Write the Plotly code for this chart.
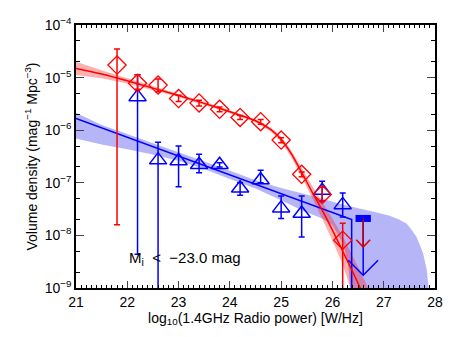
import numpy as np
import plotly.graph_objects as go

# red sample (diamonds): log10 P, density, upper/lower error ends
red_x = [21.8, 22.2, 22.6, 23.0, 23.4, 23.8, 24.2, 24.6, 25.0, 25.4, 25.8, 26.2]
red_y = [1.73e-5, 7.8e-6, 7.2e-6, 4.0e-6, 3.3e-6, 2.5e-6, 1.75e-6, 1.45e-6, 6.5e-7, 1.45e-7, 6.0e-8, 8.1e-9]
red_hi = [3.5e-5, 1.13e-5, 9.4e-6, 4.6e-6, 3.7e-6, 2.75e-6, 1.9e-6, 1.6e-6, 7.2e-7, 1.6e-7, 8.2e-8, 1.7e-8]
red_lo = [1.6e-8, 6.0e-6, 5.4e-6, 3.5e-6, 2.9e-6, 2.25e-6, 1.6e-6, 1.3e-6, 5.8e-7, 1.3e-7, 4.4e-8, 1e-11]

# blue sample (triangles)
blue_x = [22.2, 22.6, 23.0, 23.4, 23.8, 24.2, 24.6, 25.0, 25.4, 25.8, 26.2]
blue_y = [4.3e-6, 2.7e-7, 2.6e-7, 2.2e-7, 2.2e-7, 7.9e-8, 1.13e-7, 3.3e-8, 2.6e-8, 7.1e-8, 3.8e-8]
blue_hi = [1.13e-5, 5.9e-7, 5.0e-7, 3.5e-7, 2.4e-7, 1.0e-7, 1.74e-7, 5.6e-8, 5.6e-8, 1.07e-7, 6.4e-8]
blue_lo = [4.4e-9, 1e-11, 8.4e-8, 1.55e-7, 2.0e-7, 5.8e-8, 1.0e-7, 2.1e-8, 9.3e-9, 4.5e-8, 2.24e-8]

# upper limits at the brightest bin
ul_x = 26.6
ul_top = 2.1e-8
ul_red_tip = 6.0e-9
ul_blue_tip = 1.75e-9

# fitted curves (log10 density)
red_fit_x = [21.0, 21.5, 22.0, 22.5, 23.0, 23.5, 24.0, 24.5, 24.8, 25.0, 25.2, 25.4, 25.6, 25.8, 26.0, 26.2, 26.4, 26.55]
red_fit_logy = [-4.825, -4.93, -5.06, -5.20, -5.34, -5.49, -5.65, -5.82, -5.99, -6.17, -6.45, -6.80, -7.17, -7.52, -7.90, -8.30, -8.70, -9.02]
red_band_x = [21.0, 21.5, 22.0, 22.5, 23.0, 23.5, 24.0, 24.5, 24.8, 25.0, 25.2, 25.4, 25.6, 25.8, 26.0, 26.2, 26.4, 26.6, 26.7, 26.75]
red_band_up = [-4.70, -4.86, -5.01, -5.16, -5.31, -5.46, -5.62, -5.79, -5.95, -6.12, -6.39, -6.72, -7.05, -7.36, -7.68, -8.02, -8.40, -8.80, -9.0, -9.1]
red_band_lo_x = [21.0, 21.5, 22.0, 22.5, 23.0, 23.5, 24.0, 24.5, 24.8, 25.0, 25.2, 25.4, 25.6, 25.8, 26.0, 26.2, 26.35, 26.4]
red_band_lo = [-4.95, -5.01, -5.11, -5.24, -5.37, -5.52, -5.68, -5.85, -6.03, -6.22, -6.52, -6.89, -7.28, -7.68, -8.10, -8.55, -9.0, -9.1]

blue_fit_x = [21.0, 22.0, 23.0, 24.0, 25.0, 26.0, 26.375, 26.375]
blue_fit_logy = [-5.776, -6.134, -6.492, -6.85, -7.208, -7.566, -7.70, -9.5]
blue_band_x = [21.0, 21.5, 22.0, 22.5, 23.0, 23.5, 24.0, 24.5, 25.0, 25.4, 25.8, 26.1, 26.4, 26.8, 27.1, 27.3, 27.45, 27.55, 27.64, 27.72, 27.77, 27.84, 27.88]
blue_band_up = [-5.668, -5.90, -6.07, -6.25, -6.42, -6.595, -6.77, -6.95, -7.10, -7.20, -7.30, -7.39, -7.46, -7.55, -7.62, -7.70, -7.78, -7.90, -8.03, -8.22, -8.35, -8.66, -9.05]
blue_band_lo_x = [21.0, 21.5, 22.0, 22.5, 23.0, 23.5, 24.0, 24.5, 25.0, 25.4, 25.8, 26.0, 26.2, 26.3, 26.35]
blue_band_lo = [-6.157, -6.27, -6.36, -6.46, -6.58, -6.74, -6.93, -7.11, -7.33, -7.52, -7.68, -7.80, -8.15, -8.5, -9.05]

RED = "#ff0000"
BLUE = "#0000ff"
FONT = "Liberation Sans"


def band(xu, yu, xl, yl):
    xs = list(xu) + list(xl)[::-1]
    ys = list(10 ** np.array(yu)) + list(10 ** np.array(yl))[::-1]
    return xs, ys


def errs(y, hi, lo):
    y = np.array(y)
    return np.array(hi) - y, y - np.array(lo)


def chevron(x, tip, half_w, head_dex):
    # open arrow head in data units
    yh = 10 ** (np.log10(tip) + head_dex)
    return [x - half_w, x, x + half_w], [yh, tip, yh]


fig = go.Figure()

bx, by = band(blue_band_x, blue_band_up, blue_band_lo_x, blue_band_lo)
fig.add_trace(go.Scatter(x=bx, y=by, fill="toself", mode="none",
                         fillcolor="rgba(30,30,235,0.33)", hoverinfo="skip"))
rx, ry = band(red_band_x, red_band_up, red_band_lo_x, red_band_lo)
fig.add_trace(go.Scatter(x=rx, y=ry, fill="toself", mode="none",
                         fillcolor="rgba(250,30,30,0.35)", hoverinfo="skip"))

fig.add_trace(go.Scatter(x=blue_fit_x, y=10 ** np.array(blue_fit_logy), mode="lines",
                         line=dict(color=BLUE, width=1.5)))
fig.add_trace(go.Scatter(x=red_fit_x, y=10 ** np.array(red_fit_logy), mode="lines",
                         line=dict(color=RED, width=1.5, shape="spline", smoothing=0.6)))

# upper limits: blue first, red on top
ax_, ay_ = chevron(ul_x, ul_blue_tip, 0.29, 0.285)
fig.add_trace(go.Scatter(x=[ul_x, ul_x], y=[ul_top, ul_blue_tip], mode="lines",
                         line=dict(color=BLUE, width=1.5)))
fig.add_trace(go.Scatter(x=ax_, y=ay_, mode="lines", line=dict(color=BLUE, width=1.5)))
fig.add_trace(go.Scatter(x=[ul_x], y=[ul_top], mode="markers", marker=dict(size=0.1, color=BLUE),
                         error_x=dict(type="data", array=[0.15], color=BLUE, thickness=7, width=0)))
ax_, ay_ = chevron(ul_x, ul_red_tip, 0.135, 0.14)
fig.add_trace(go.Scatter(x=[ul_x, ul_x], y=[ul_top, ul_red_tip], mode="lines",
                         line=dict(color="#c00000", width=1.5)))
fig.add_trace(go.Scatter(x=ax_, y=ay_, mode="lines", line=dict(color="#e00000", width=1.5)))

eh, el = errs(blue_y, blue_hi, blue_lo)
fig.add_trace(go.Scatter(x=blue_x, y=blue_y, mode="markers",
                         marker=dict(symbol="triangle-up-open", size=15, color=BLUE,
                                     line=dict(width=1.5, color=BLUE)),
                         error_y=dict(type="data", array=eh, arrayminus=el, color=BLUE,
                                      thickness=1.5, width=3)))
eh, el = errs(red_y, red_hi, red_lo)
fig.add_trace(go.Scatter(x=red_x, y=red_y, mode="markers",
                         marker=dict(symbol="diamond-open", size=14, color=RED,
                                     line=dict(width=1.3, color=RED)),
                         error_y=dict(type="data", array=eh, arrayminus=el, color=RED,
                                      thickness=1.5, width=3)))

fig.add_annotation(x=22.0, y=-8.43, xref="x", yref="y", xanchor="left", yanchor="middle",
                   text="M<sub>i</sub>  <  \u221223.0 mag", showarrow=False,
                   font=dict(family=FONT, size=15, color="black"))

ytv = [1e-9, 1e-8, 1e-7, 1e-6, 1e-5, 1e-4]
ytt = ["10<sup>\u2212%d</sup>" % k for k in [9, 8, 7, 6, 5, 4]]

# page body has an 8px margin, so the figure is sized to sit inside the window
fig.update_layout(
    width=450, height=329, showlegend=False,
    margin=dict(l=68, r=23, t=17, b=49, autoexpand=False),
    plot_bgcolor="white", paper_bgcolor="white",
    font=dict(family=FONT, size=14, color="black"),
    xaxis=dict(range=[21, 28], dtick=1, tick0=21, ticks="inside", ticklen=7, tickwidth=1.2,
               showline=True, linecolor="black", linewidth=1.5, mirror="ticks",
               showgrid=False, zeroline=False, automargin=False,
               minor=dict(ticks="inside", ticklen=3, dtick=0.1, tickcolor="black", showgrid=False),
               title=dict(text="log<sub>10</sub>(1.4GHz Radio power) [W/Hz]", standoff=4,
                          font=dict(size=14))),
    yaxis=dict(type="log", range=[-9, -4], tickvals=ytv, ticktext=ytt,
               ticks="inside", ticklen=8, tickwidth=1.2,
               showline=True, linecolor="black", linewidth=1.5, mirror="ticks",
               showgrid=False, zeroline=False, automargin=False,
               minor=dict(ticks="inside", ticklen=4, tickcolor="black", showgrid=False),
               title=dict(text="Volume density (mag<sup>\u22121</sup> Mpc<sup>\u22123</sup>)",
                          standoff=4, font=dict(size=14))),
)

fig.write_html("out.html")
